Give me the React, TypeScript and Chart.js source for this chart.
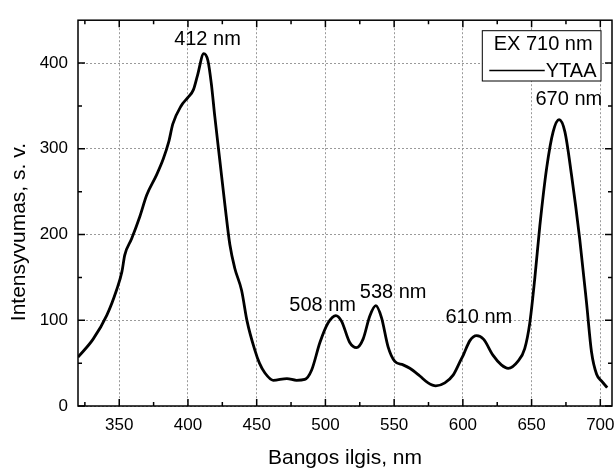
import React, { useEffect, useRef } from "react";
import { Chart, registerables } from "chart.js";

Chart.register(...registerables);

// ---- data ----
const wavelengths = [
  320, 331, 341, 348, 352, 354, 359, 365, 370, 377, 382, 386, 389, 395, 400, 404, 407, 411.5, 414.5, 417,
  419.5, 423, 427, 430.5, 434, 439, 443, 448.5, 452, 456, 462, 472, 479, 485, 490, 496, 502, 507.6, 511.7,
  517.7, 522.6, 527.4, 532.3, 536.7, 540.8, 545.6, 550.5, 556.5, 561.4, 568.7, 574.7, 580.3, 586.9, 592.9,
  598, 600.5, 605, 610, 615, 622, 628, 633, 640, 645, 648.7, 652.4, 656, 661, 665.7, 670, 674.2, 679, 685,
  690, 693.6, 697.3, 701, 705,
];
const intensities = [
  57, 78, 106, 135, 157, 176, 195, 221, 246, 269, 288, 308, 329, 350, 360, 369, 386, 411, 403, 376,
  338, 289, 233, 188, 161, 135, 99, 66, 50, 38.5, 30, 32, 30, 31, 42, 74, 97, 105.5, 99,
  74, 68, 78, 105, 117, 103, 69, 52, 48, 44, 35, 27, 23.5, 27, 36,
  52, 60, 76, 82, 78, 59, 48, 44, 52, 67, 97, 150, 210, 278, 320, 334, 320, 270, 195,
  120, 63, 37, 29, 21.5,
];

const xMin = 320;
const xMax = 708.5;
const yMin = 0;
const yMax = 450;
const xTickValues = [350, 400, 450, 500, 550, 600, 650, 700];
const xMinorValues = [325, 375, 425, 475, 525, 575, 625, 675];
const yTickValues = [0, 100, 200, 300, 400];
const yMinorValues = [50, 150, 250, 350];

const peakLabels = ["412 nm", "508 nm", "538 nm", "610 nm", "670 nm"];
const peakLabelX = [414.2, 498, 549.3, 611.6, 677.1];
const peakLabelY = [427, 117.7, 132, 102.7, 357];

const legendTitle = "EX 710 nm";
const seriesName = "YTAA";
const xTitle = "Bangos ilgis, nm";
const yTitle = "Intensyvumas, s. v.";

const FONT = "'Liberation Sans', Arial, Helvetica, sans-serif";

const decorPlugin = {
  id: "decor",
  afterDatasetsDraw(chart: any) {
    const { ctx, chartArea: a, scales } = chart;
    const x = scales.x;
    const y = scales.y;
    ctx.save();

    // peak annotations
    ctx.fillStyle = "#000";
    ctx.font = `20px ${FONT}`;
    ctx.textAlign = "center";
    ctx.textBaseline = "middle";
    peakLabels.forEach((t, i) => {
      ctx.fillText(t, x.getPixelForValue(peakLabelX[i]), y.getPixelForValue(peakLabelY[i]));
    });

    // frame
    ctx.strokeStyle = "#000";
    ctx.lineWidth = 1.5;
    ctx.strokeRect(a.left, a.top, a.right - a.left, a.bottom - a.top);

    // inward ticks
    const drawX = (vals: number[], len: number) => {
      vals.forEach((v) => {
        const px = x.getPixelForValue(v);
        ctx.beginPath();
        ctx.moveTo(px, a.bottom);
        ctx.lineTo(px, a.bottom - len);
        ctx.moveTo(px, a.top);
        ctx.lineTo(px, a.top + len);
        ctx.stroke();
      });
    };
    const drawY = (vals: number[], len: number) => {
      vals.forEach((v) => {
        const py = y.getPixelForValue(v);
        ctx.beginPath();
        ctx.moveTo(a.left, py);
        ctx.lineTo(a.left + len, py);
        ctx.moveTo(a.right, py);
        ctx.lineTo(a.right - len, py);
        ctx.stroke();
      });
    };
    drawX(xTickValues, 7);
    drawX(xMinorValues, 4);
    drawY(yTickValues, 7);
    drawY(yMinorValues, 4);

    // x tick labels
    ctx.font = `17px ${FONT}`;
    ctx.textAlign = "center";
    ctx.textBaseline = "alphabetic";
    xTickValues.forEach((v) => {
      ctx.fillText(String(v), x.getPixelForValue(v), a.bottom + 23.5);
    });

    // axis titles
    ctx.font = `21px ${FONT}`;
    ctx.fillText(xTitle, (a.left + a.right) / 2, a.bottom + 57.5);
    ctx.save();
    ctx.translate(25, (a.top + a.bottom) / 2 + 19);
    ctx.rotate(-Math.PI / 2);
    ctx.textAlign = "center";
    ctx.fillText(yTitle, 0, 0);
    ctx.restore();

    // legend box
    const bw = 118.7;
    const bh = 50.3;
    const bRight = a.right - 11;
    const bLeft = bRight - bw;
    const bTop = a.top + 10.5;
    ctx.fillStyle = "#fff";
    ctx.fillRect(bLeft, bTop, bw, bh);
    ctx.strokeStyle = "#000";
    ctx.lineWidth = 1;
    ctx.strokeRect(bLeft, bTop, bw, bh);
    ctx.fillStyle = "#000";
    ctx.font = `20px ${FONT}`;
    ctx.textAlign = "center";
    ctx.fillText(legendTitle, bLeft + bw / 2 + 1.5, bTop + 19.3);
    ctx.textAlign = "right";
    const tw = ctx.measureText(seriesName).width;
    ctx.fillText(seriesName, bRight - 4.5, bTop + 46);
    ctx.lineWidth = 1.5;
    ctx.beginPath();
    ctx.moveTo(bLeft + 7, bTop + 39.7);
    ctx.lineTo(bRight - 4.5 - tw - 1, bTop + 39.7);
    ctx.stroke();

    ctx.restore();
  },
};

export default function App() {
  const ref = useRef<HTMLCanvasElement | null>(null);
  useEffect(() => {
    if (!ref.current) return;
    const chart = new Chart(ref.current, {
      type: "line",
      data: {
        datasets: [
          {
            label: seriesName,
            data: wavelengths.map((w, i) => ({ x: w, y: intensities[i] })),
            borderColor: "#000",
            borderWidth: 2.8,
            pointRadius: 0,
            fill: false,
            cubicInterpolationMode: "monotone",
          },
        ],
      },
      options: {
        animation: false,
        responsive: false,
        devicePixelRatio: 1,
        layout: { padding: { top: 8, right: 2, left: 0, bottom: 0 } },
        plugins: { legend: { display: false }, tooltip: { enabled: false } },
        scales: {
          x: {
            type: "linear",
            min: xMin,
            max: xMax,
            afterBuildTicks: (s: any) => {
              s.ticks = xTickValues.map((value) => ({ value }));
            },
            afterFit: (s: any) => {
              s.height = 64;
            },
            ticks: { display: false },
            grid: { color: "#9a9a9a", lineWidth: 1, drawTicks: false },
            border: { display: false, dash: [2, 2] },
          },
          y: {
            type: "linear",
            min: yMin,
            max: yMax,
            afterBuildTicks: (s: any) => {
              s.ticks = yTickValues.map((value) => ({ value }));
            },
            afterFit: (s: any) => {
              s.width = 78;
            },
            ticks: {
              color: "#000",
              padding: 10,
              font: { family: FONT, size: 17 },
            },
            grid: { color: "#9a9a9a", lineWidth: 1, drawTicks: false },
            border: { display: false, dash: [2, 2] },
          },
        },
      },
      plugins: [decorPlugin],
    } as any);
    return () => chart.destroy();
  }, []);
  return (
    <div style={{ position: "absolute", left: 0, top: 0, width: 614, height: 470, background: "#fff" }}>
      <canvas ref={ref} width={614} height={470} style={{ display: "block" }} />
    </div>
  );
}
